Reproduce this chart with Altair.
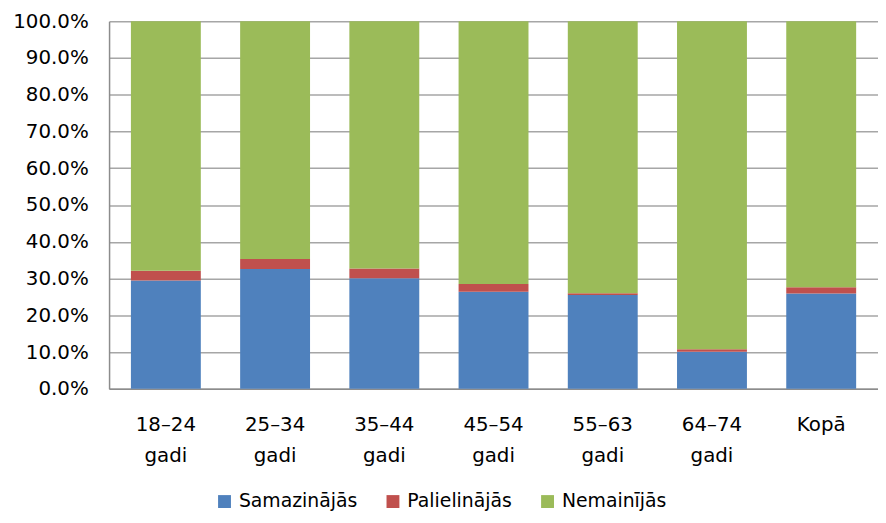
import altair as alt
import pandas as pd

categories = ["18–24 gadi", "25–34 gadi", "35–44 gadi", "45–54 gadi", "55–63 gadi", "64–74 gadi", "Kopā"]
series = ["Samazinājās", "Palielinājās", "Nemainījās"]
samazinajas = [29.5, 32.6, 30.1, 26.4, 25.5, 10.1, 25.9]
palielinajas = [2.6, 2.7, 2.6, 2.1, 0.5, 0.7, 1.7]
nemainijas = [round(100 - a - b, 1) for a, b in zip(samazinajas, palielinajas)]
colors = ["#4F81BD", "#C0504D", "#9BBB59"]
y_ticks = [i / 10 for i in range(11)]

rows = []
for i, c in enumerate(categories):
    for k, (name, vals) in enumerate(zip(series, [samazinajas, palielinajas, nemainijas])):
        rows.append({"cat": c, "series": name, "value": vals[i] / 100, "ord": k})
df = pd.DataFrame(rows)

FONT = "DejaVu Sans"

chart = alt.Chart(df).mark_bar().encode(
    x=alt.X("cat:N", sort=categories, title=None,
            scale=alt.Scale(paddingInner=0.36, paddingOuter=0.2),
            axis=alt.Axis(labelAngle=0, ticks=False, labelPadding=26, labelLineHeight=31,
                          labelExpr="split(datum.value, ' ')", domainColor="#8c8c8c",
                          domainWidth=1.5, labelFont=FONT, labelFontSize=20, labelColor="#000000")),
    y=alt.Y("value:Q", stack="zero", title=None,
            scale=alt.Scale(domain=[0, 1], nice=False),
            axis=alt.Axis(values=y_ticks, format=".1%", ticks=False, labelPadding=21,
                          domainColor="#8c8c8c", domainWidth=1.5, gridColor="#a6a6a6", gridWidth=1.5,
                          labelFont=FONT, labelFontSize=20, labelColor="#000000")),
    color=alt.Color("series:N", sort=series, title=None,
                    scale=alt.Scale(domain=series, range=colors),
                    legend=alt.Legend(orient="none", legendX=107, legendY=475, direction="horizontal",
                                      symbolType="square", symbolSize=169, symbolStrokeWidth=0,
                                      labelFont=FONT, labelFontSize=19, labelColor="#000000",
                                      columnPadding=26, labelOffset=5, padding=0)),
    order=alt.Order("ord:Q", sort="ascending"),
).properties(
    width=776, height=371,
    autosize=alt.AutoSizeParams(type="none"),
    padding={"left": 102, "top": 11, "right": 0, "bottom": 125},
).configure_view(stroke=None).configure_axis(grid=True).configure_axisX(grid=False)

chart.save("out.html", embed_options={"renderer": "svg", "actions": False})
